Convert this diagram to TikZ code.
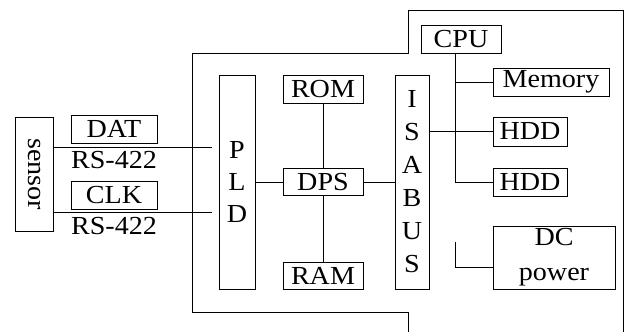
\documentclass[tikz,border=0pt]{standalone}
\usepackage{fontspec}
\setmainfont[FakeStretch=1.08]{Liberation Serif}
\usetikzlibrary{positioning}
\tikzset{
  hwbox/.style={
    draw=black,
    line width=1pt,
    inner sep=0pt,
    align=center,
    font=\fontsize{26}{32}\selectfont
  },
  hwlabel/.style={
    inner sep=0pt,
    font=\fontsize{26}{32}\selectfont
  },
  hwline/.style={
    draw=black,
    line width=1pt
  }
}
\begin{document}
\begin{tikzpicture}[x=1pt,y=-1pt]
  \useasboundingbox (0,0) rectangle (627,332);
  % outer housing
  \draw[hwline] (192,53) -- (408,53) -- (408,10) -- (623,10) -- (623,332) -- (408,332) -- (408,312) -- (192,312) -- cycle;
  % sensor side
  \node[hwbox, rotate=-90, minimum width=114, minimum height=38] (sensor) at (34,174) {sensor};
  \node[hwbox, minimum width=86, minimum height=28] (dat) at (114,129) {DAT};
  \node[hwbox, minimum width=86, minimum height=28] (clk) at (114,195) {CLK};
  \node[hwlabel] (rsa) at (114,160) {RS-422};
  \node[hwlabel] (rsb) at (114,226) {RS-422};
  % processing board
  \node[hwbox, minimum width=36, minimum height=214] (pld) at (237,182) {P\\L\\D};
  \node[hwbox, minimum width=80, minimum height=28] (rom) at (323,89) {ROM};
  \node[hwbox, minimum width=80, minimum height=27] (dps) at (323,182) {DPS};
  \node[hwbox, minimum width=80, minimum height=27] (ram) at (323,275.5) {RAM};
  \node[hwbox, minimum width=34, minimum height=214, font=\fontsize{26}{33}\selectfont] (isabus) at (412,182) {I\\S\\A\\B\\U\\S};
  % computer
  \node[hwbox, minimum width=80, minimum height=28] (cpu) at (461,39) {CPU};
  \node[hwbox, minimum width=116, minimum height=28] (mem) at (551,82) {Memory};
  \node[hwbox, minimum width=74, minimum height=29] (hdda) at (530,131.5) {HDD};
  \node[hwbox, minimum width=74, minimum height=28] (hddb) at (530,182) {HDD};
  \node[hwbox, minimum width=122, minimum height=63, font=\fontsize{26}{35}\selectfont] (dc) at (554,257.5) {DC\\power};
  \coordinate (trunk) at (455,0);
  \coordinate (dcend) at (455,242);
  % connectors
  \draw[hwline, shorten >=7pt] (sensor.north |- 0,147) -- (pld.west |- 0,147);
  \draw[hwline, shorten >=7pt] (sensor.north |- 0,212) -- (pld.west |- 0,212);
  \draw[hwline] (pld.east |- dps) -- (dps.west);
  \draw[hwline] (dps.east) -- (isabus.west |- dps);
  \draw[hwline] (rom.south) -- (dps.north);
  \draw[hwline] (dps.south) -- (ram.north);
  \draw[hwline] (cpu.south -| trunk) |- (hddb.west);
  \draw[hwline] (trunk |- mem.west) -- (mem.west);
  \draw[hwline] (isabus.east |- hdda.west) -- (hdda.west);
  \draw[hwline] (dcend) |- (dc.west |- 0,267);
\end{tikzpicture}
\end{document}
